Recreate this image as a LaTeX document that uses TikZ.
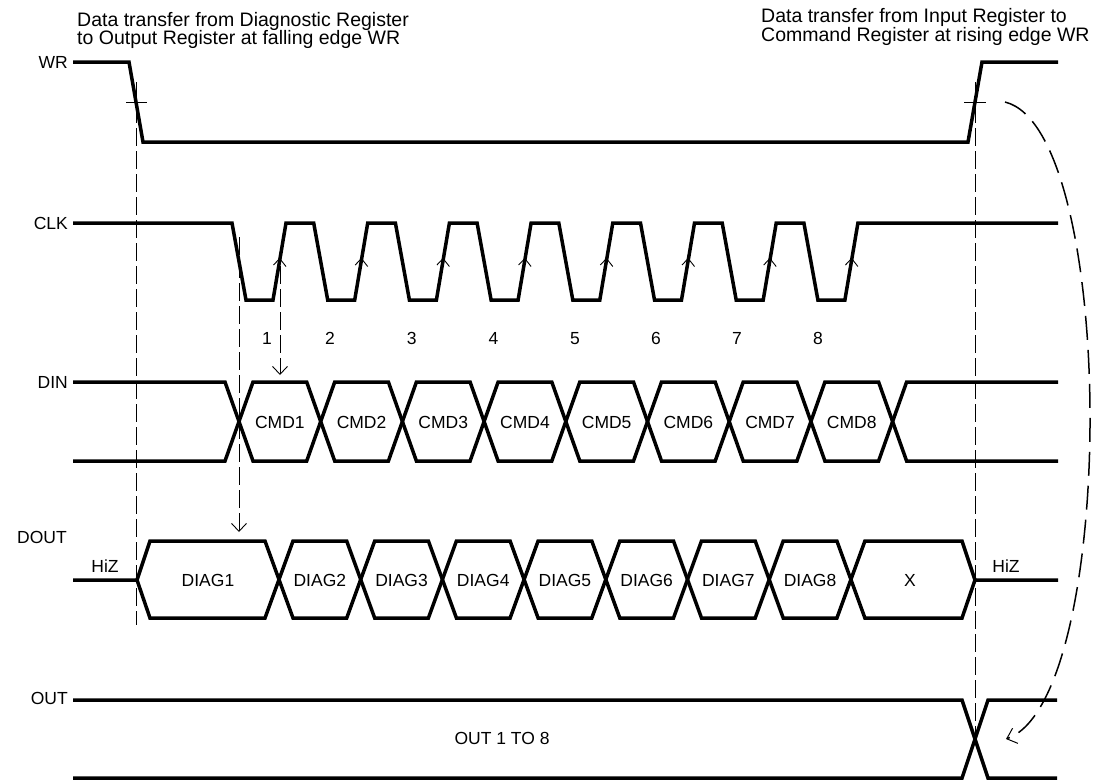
\documentclass[tikz,border=0pt]{standalone}
\usepackage{fontspec}
\setmainfont{Liberation Sans}
\usetikzlibrary{arrows.meta}
\begin{document}
\begin{tikzpicture}[x=1pt,y=-1pt,
  sig/.style={line width=3.5pt, line join=miter},
  thinline/.style={line width=0.9pt},
  vdash/.style={line width=0.9pt, dash pattern=on 18pt off 5pt},
  lbl/.style={font=\fontsize{17.5}{19}\selectfont, inner sep=0pt},
  head/.style={font=\fontsize{19.5}{20}\selectfont, inner sep=0pt, anchor=base west},
  tip/.style={-{Straight Barb[length=8pt,width=15pt]}}
]
\useasboundingbox (0,0) rectangle (1100,782);

% headings
\node[head] (h1a) at (77,26) {Data transfer from Diagnostic Register};
\node[head] (h1b) at (77,44.3) {to Output Register at falling edge WR};
\node[head] (h2a) at (761,22.7) {Data transfer from Input Register to};
\node[head] (h2b) at (761,41.7) {Command Register at rising edge WR};

% signal names
\node[lbl, anchor=east] (nWR) at (68,62) {WR};
\node[lbl, anchor=east] (nCLK) at (68,223) {CLK};
\node[lbl, anchor=east] (nDIN) at (68,382) {DIN};
\node[lbl, anchor=east] (nDOUT) at (67,537) {DOUT};
\node[lbl, anchor=east] (nOUT) at (68,698) {OUT};

% WR
\draw[sig] (73,62) -- (129,62) -- (143,142) -- (968,142) -- (982,62) -- (1058,62);
\draw[thinline] (126,102) -- (147,102);
\draw[thinline] (964,102) -- (986,102);

% CLK
\draw[sig] (73,223) foreach \k in {0,...,7} { -- ({232+81.7*\k},223) -- ({246+81.7*\k},300) -- ({273+81.7*\k},300) -- ({286+81.7*\k},223) } -- (1058,223);
\foreach \k in {0,...,7} \draw[thinline] ({273.5+81.7*\k},265) -- ({279.7+81.7*\k},258.5) -- ({286+81.7*\k},266.5);

% clock numbers
\foreach \k/\x in {1/267,2/330,3/411.7,4/493.4,5/575,6/656,7/737,8/818}
  \node[lbl, anchor=base] (num\k) at (\x,344) {\k};

% DIN
\draw[sig] (73,382) -- (225,382) -- (253,461) -- (306.7,461) -- (334.7,382) -- (388.4,382) -- (416.4,461) -- (470.1,461) -- (498.1,382) -- (551.8,382) -- (579.8,461) -- (633.5,461) -- (661.5,382) -- (715.2,382) -- (743.2,461) -- (796.9,461) -- (824.9,382) -- (878.6,382) -- (906.6,461) -- (1058,461);
\draw[sig] (73,461) -- (225,461) -- (253,382) -- (306.7,382) -- (334.7,461) -- (388.4,461) -- (416.4,382) -- (470.1,382) -- (498.1,461) -- (551.8,461) -- (579.8,382) -- (633.5,382) -- (661.5,461) -- (715.2,461) -- (743.2,382) -- (796.9,382) -- (824.9,461) -- (878.6,461) -- (906.6,382) -- (1058,382);
\foreach \k in {1,...,8}
  \node[lbl, anchor=base] (cmd\k) at ({239+81.7*(\k-0.5)},428.5) {CMD\k};

% DOUT
\draw[sig] (73,580) -- (137,580) -- (150,541) -- (265,541) -- (293,618) -- (346.7,618) -- (374.7,541) -- (428.4,541) -- (456.4,618) -- (510.1,618) -- (538.1,541) -- (591.8,541) -- (619.8,618) -- (673.5,618) -- (701.5,541) -- (755.2,541) -- (783.2,618) -- (836.9,618) -- (864.9,541) -- (962,541) -- (975,580) -- (1058,580);
\draw[sig] (137,580) -- (150,618) -- (265,618) -- (293,541) -- (346.7,541) -- (374.7,618) -- (428.4,618) -- (456.4,541) -- (510.1,541) -- (538.1,618) -- (591.8,618) -- (619.8,541) -- (673.5,541) -- (701.5,618) -- (755.2,618) -- (783.2,541) -- (836.9,541) -- (864.9,618) -- (962,618) -- (975,580);
\node[lbl, anchor=base] (hizL) at (105,572) {HiZ};
\node[lbl, anchor=base] (hizR) at (1006,572) {HiZ};
\node[lbl, anchor=base] (diag1) at (208,586.5) {DIAG1};
\foreach \k in {2,...,8}
  \node[lbl, anchor=base] (diag\k) at ({279+81.7*(\k-1.5)},586.5) {DIAG\k};
\node[lbl, anchor=base] (xcell) at (910,586.5) {X};

% OUT
\draw[sig] (73,700) -- (962,700) -- (988,778) -- (1057,778);
\draw[sig] (73,778) -- (962,778) -- (988,700) -- (1057,700);
\node[lbl, anchor=base] (outtxt) at (502,744.5) {OUT 1 TO 8};

% timing references
\coordinate (wrF) at (136,82);
\coordinate (doutBot) at (136,625);
\coordinate (wrR) at (975,82);
\coordinate (outX) at (975,738);
\coordinate (clkF) at (239,237);
\coordinate (doutTop) at (239,532);
\coordinate (clkR) at (280,266);
\coordinate (dinTop) at (280,375);
\coordinate (arcS) at (1005,102);
\coordinate (arcE) at (1006,739);

\draw[vdash] (wrF) -- (doutBot);
\draw[vdash] (wrR) -- (outX);
\draw[vdash, tip] (clkF) -- (doutTop);
\draw[vdash, tip] (clkR) -- (dinTop);
\draw[line width=1.5pt, dash pattern=on 24pt off 10pt, -{Straight Barb[length=9pt,width=16pt,line width=1pt]}] (arcS) .. controls (1118,130) and (1118,700) .. (arcE);
\end{tikzpicture}
\end{document}
